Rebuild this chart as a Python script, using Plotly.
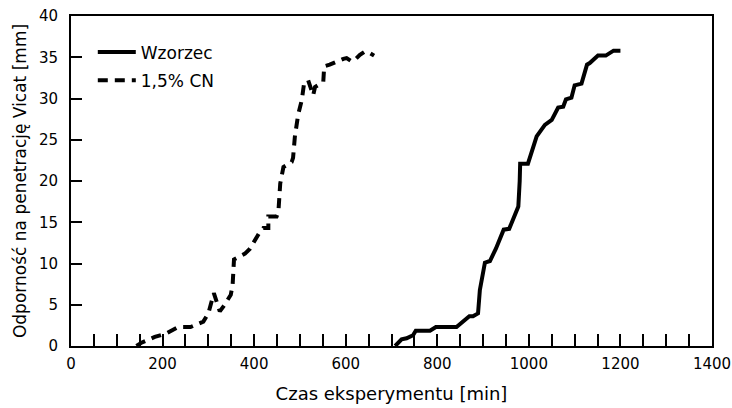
import plotly.graph_objects as go

# Wzorzec (reference) series
wz_x = [708, 722, 733, 747, 753, 784, 797, 842, 870, 878, 889, 893, 904, 915, 928, 945, 957, 977, 980, 981,
        998, 1017, 1035, 1050, 1064, 1075, 1081, 1093, 1100, 1115, 1127, 1133, 1151, 1168, 1185, 1200]
wz_y = [0.0, 0.8, 0.93, 1.3, 1.85, 1.85, 2.3, 2.3, 3.6, 3.6, 3.95, 6.8, 10.1, 10.3, 11.8, 14.1, 14.2, 16.9, 20.0, 22.1,
        22.1, 25.4, 26.8, 27.4, 28.9, 29.0, 29.9, 30.1, 31.6, 31.8, 34.1, 34.3, 35.2, 35.2, 35.8, 35.8]

# 1,5% CN series
cn_x = [143, 154, 183, 207, 234, 261, 289, 300, 312, 325, 333, 349, 353, 356, 380, 391, 411, 420, 431, 431,
        449, 453, 457, 464, 482, 485, 489, 496, 504, 509, 518, 529, 533, 551, 553, 565, 595, 602, 613, 620,
        631, 642, 653, 662]
cn_y = [0.0, 0.4, 1.1, 1.5, 2.3, 2.3, 2.95, 3.96, 6.4, 4.2, 4.8, 6.2, 7.4, 10.5, 11.2, 11.8, 13.7, 14.3, 14.3, 15.7,
        15.7, 16.3, 19.7, 21.7, 22.3, 22.8, 25.4, 28.0, 29.8, 31.8, 32.2, 30.4, 31.4, 32.0, 33.9, 34.1, 34.8, 34.9, 34.5, 34.7,
        35.3, 35.7, 35.5, 35.2]

x_tickvals = list(range(0, 1401, 50))
x_ticktext = [str(v) if v % 200 == 0 else "" for v in x_tickvals]
y_tickvals = [0, 5, 10, 15, 20, 25, 30, 35, 40]

FONT = "DejaVu Sans"

fig = go.Figure()
fig.add_trace(go.Scatter(x=wz_x, y=wz_y, mode="lines", name="Wzorzec", legendgroup="a",
                         line=dict(color="black", width=4)))
fig.add_trace(go.Scatter(x=cn_x, y=cn_y, mode="lines", name="1,5% CN", legendgroup="b",
                         line=dict(color="black", width=4, dash="10px,7px")))

axis_common = dict(showline=True, linecolor="black", linewidth=2, mirror=True,
                   showgrid=False, zeroline=False, ticks="inside", tickcolor="black",
                   tickwidth=1.5, automargin=False, ticklabeloverflow="allow",
                   tickfont=dict(family=FONT, size=15, color="black"))

fig.update_layout(
    width=732, height=408,
    margin=dict(l=71, r=20, t=16, b=62),
    plot_bgcolor="white", paper_bgcolor="white",
    font=dict(family=FONT, color="black"),
    xaxis=dict(range=[0, 1400], tickmode="array", tickvals=x_tickvals, ticktext=x_ticktext,
               ticklen=12, ticklabelstandoff=3,
               title=dict(text="Czas eksperymentu [min]", font=dict(family=FONT, size=18, color="black"),
                          standoff=15),
               **axis_common),
    yaxis=dict(range=[0, 40], tickmode="array", tickvals=y_tickvals,
               ticklen=11, ticklabelstandoff=8,
               title=dict(text="Odporność na penetrację Vicat [mm]", font=dict(family=FONT, size=17, color="black"),
                          standoff=8),
               **axis_common),
    legend=dict(x=0.034, y=0.944, xanchor="left", yanchor="top", bgcolor="rgba(0,0,0,0)",
                tracegroupgap=3, itemwidth=38,
                font=dict(family=FONT, size=17, color="black")),
    showlegend=True,
)

fig.write_html("out.html", config={"displayModeBar": False},
               post_script="document.body.style.margin='0px';")
